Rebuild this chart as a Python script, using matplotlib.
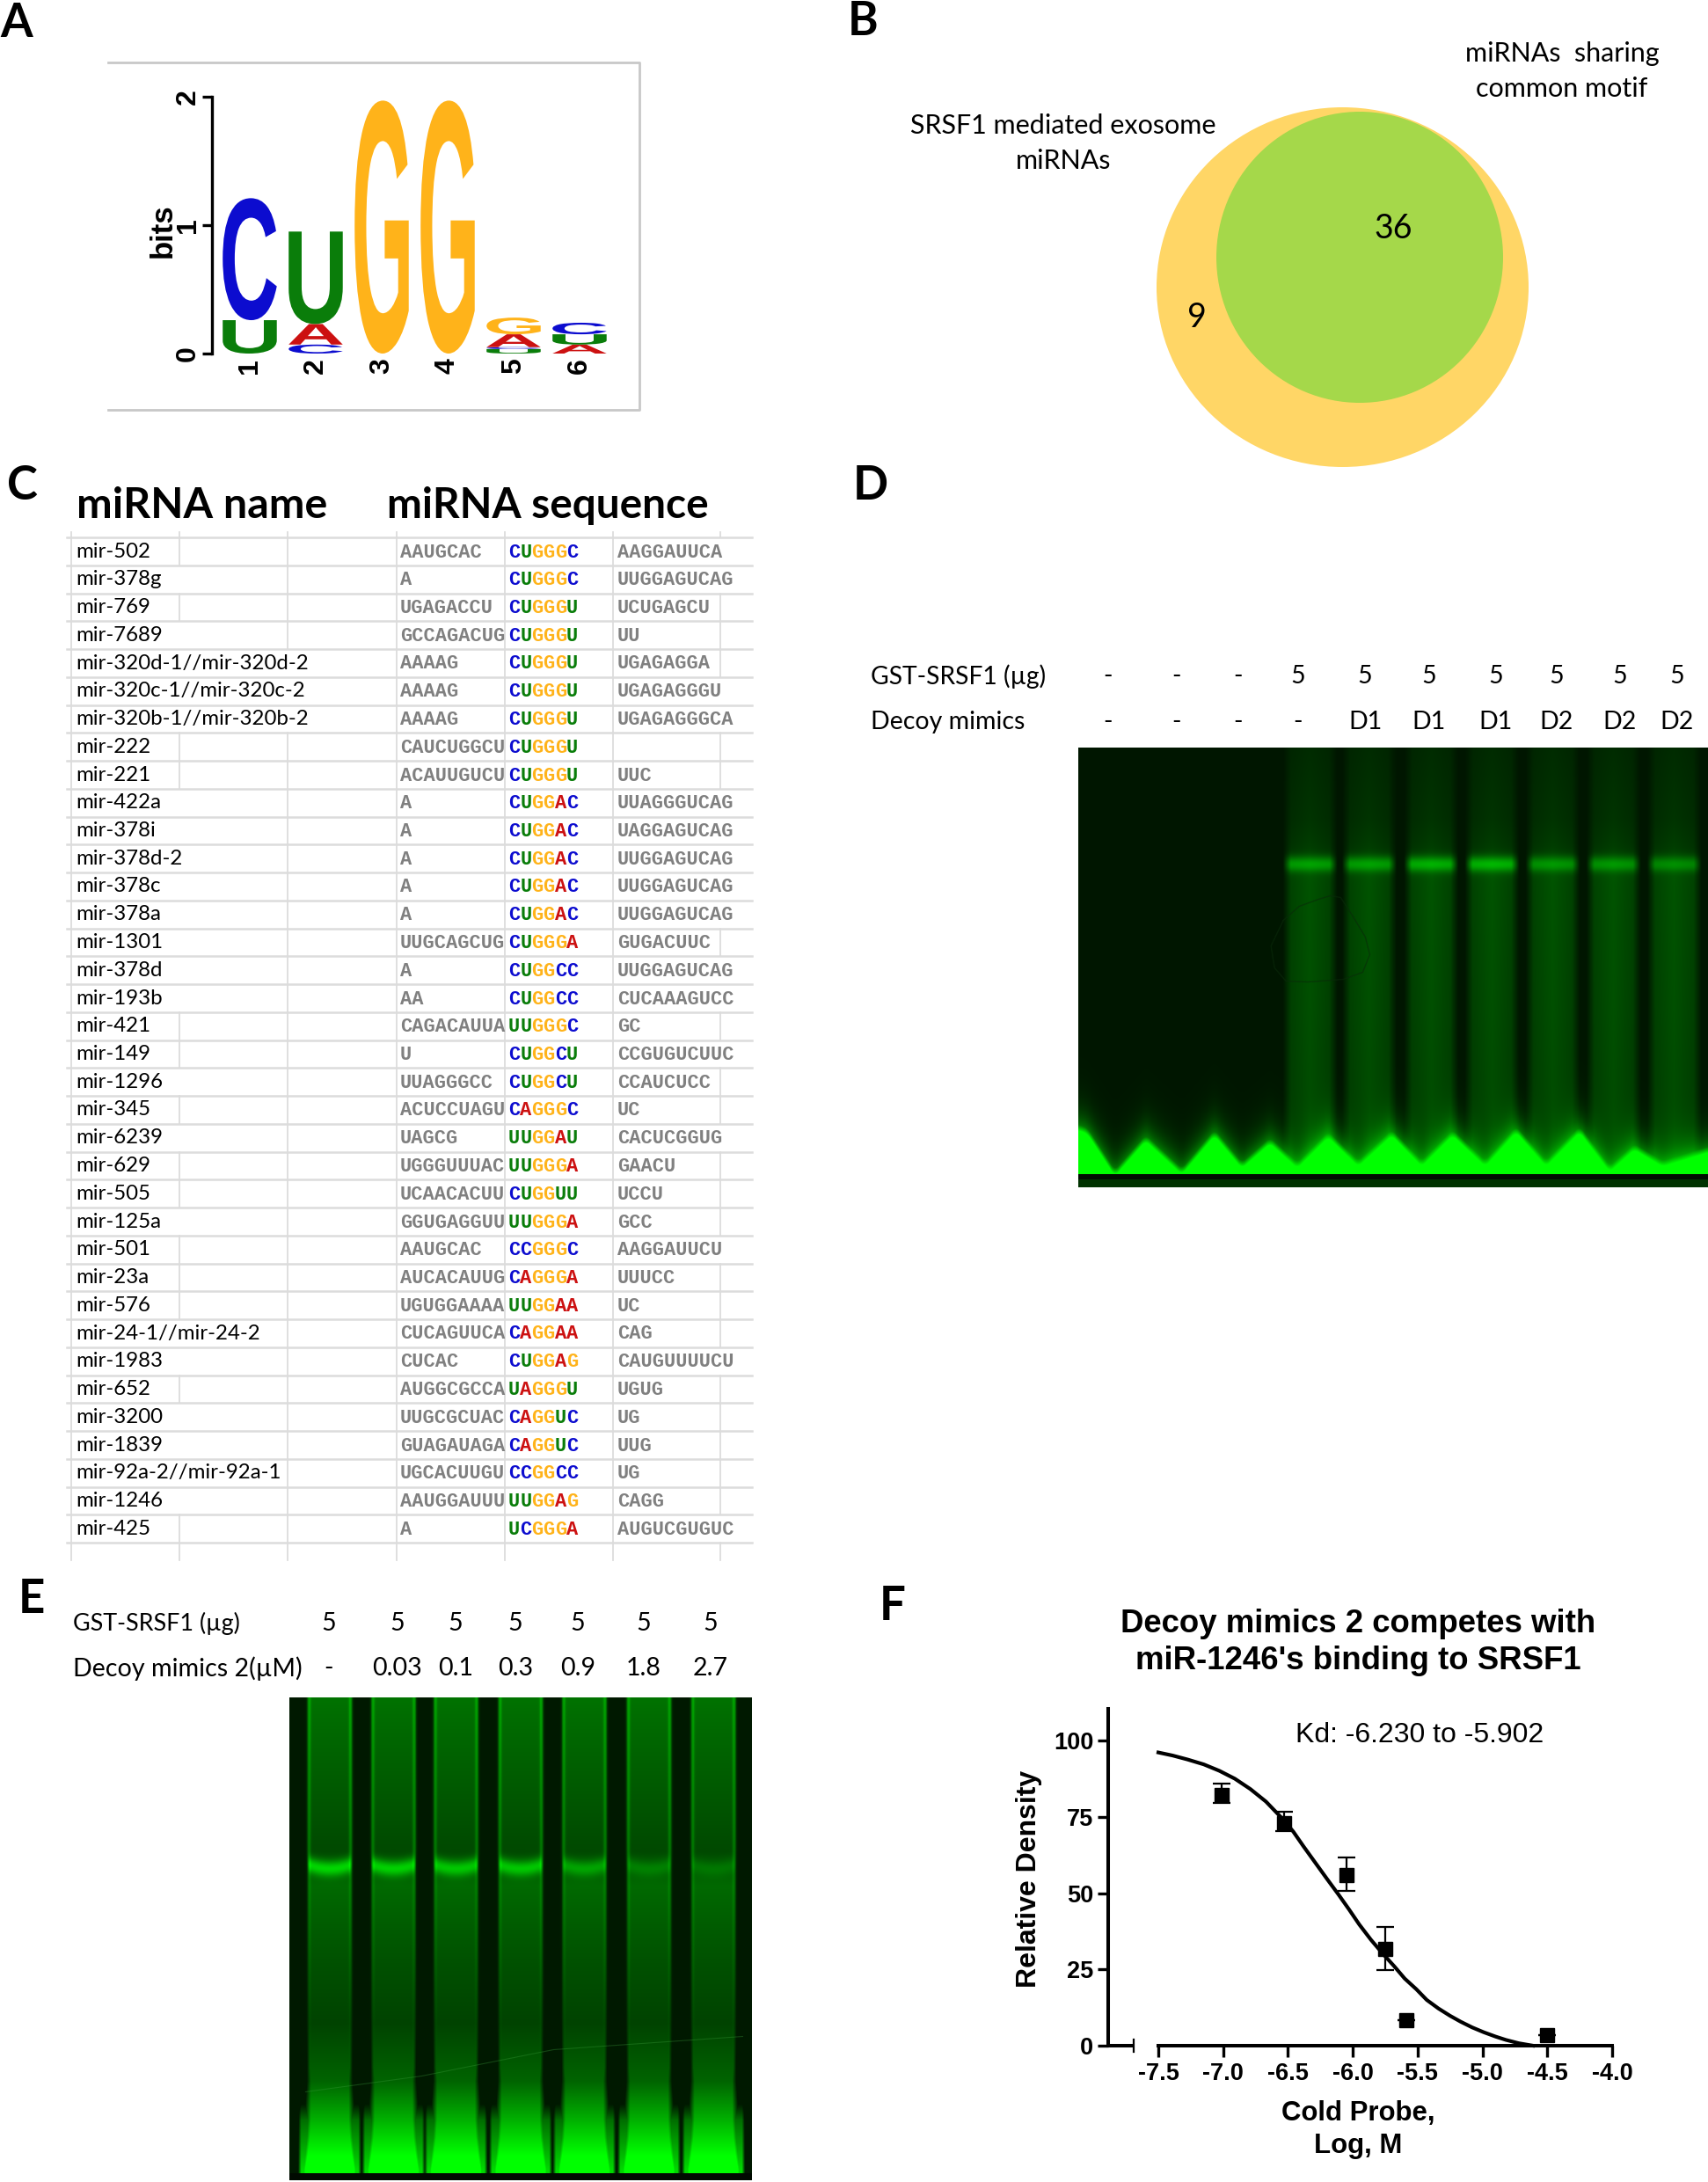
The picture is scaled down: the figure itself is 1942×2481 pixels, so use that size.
# -*- coding: utf-8 -*-
import numpy as np
import matplotlib
matplotlib.use('Agg')
import matplotlib.pyplot as plt
from matplotlib.patches import Ellipse, PathPatch
from matplotlib.textpath import TextPath
from matplotlib.font_manager import FontProperties
from matplotlib.transforms import Affine2D

W, H = 1942, 2481

# panel A, sequence logo (bits, bottom to top)
logo_stacks = [
    [('U', 0.26), ('C', 0.95)],
    [('C', 0.07), ('A', 0.16), ('U', 0.72)],
    [('G', 1.97)],
    [('G', 1.97)],
    [('U', 0.035), ('C', 0.015), ('A', 0.10), ('G', 0.13)],
    [('A', 0.07), ('U', 0.08), ('C', 0.09)],
]
logo_colors = {'A': '#CC1111', 'C': '#0C0CCF', 'G': '#FFB31A', 'U': '#0A7D0A'}

# panel B
venn_only = '9'
venn_shared = '36'

# panel C
mirna_names = ['mir-502', 'mir-378g', 'mir-769', 'mir-7689', 'mir-320d-1//mir-320d-2',
               'mir-320c-1//mir-320c-2', 'mir-320b-1//mir-320b-2', 'mir-222', 'mir-221',
               'mir-422a', 'mir-378i', 'mir-378d-2', 'mir-378c', 'mir-378a', 'mir-1301',
               'mir-378d', 'mir-193b', 'mir-421', 'mir-149', 'mir-1296', 'mir-345',
               'mir-6239', 'mir-629', 'mir-505', 'mir-125a', 'mir-501', 'mir-23a',
               'mir-576', 'mir-24-1//mir-24-2', 'mir-1983', 'mir-652', 'mir-3200',
               'mir-1839', 'mir-92a-2//mir-92a-1', 'mir-1246', 'mir-425']
seq_before = ['AAUGCAC', 'A', 'UGAGACCU', 'GCCAGACUG', 'AAAAG', 'AAAAG', 'AAAAG', 'CAUCUGGCU',
              'ACAUUGUCU', 'A', 'A', 'A', 'A', 'A', 'UUGCAGCUG', 'A', 'AA', 'CAGACAUUA', 'U',
              'UUAGGGCC', 'ACUCCUAGU', 'UAGCG', 'UGGGUUUAC', 'UCAACACUU', 'GGUGAGGUU',
              'AAUGCAC', 'AUCACAUUG', 'UGUGGAAAA', 'CUCAGUUCA', 'CUCAC', 'AUGGCGCCA',
              'UUGCGCUAC', 'GUAGAUAGA', 'UGCACUUGU', 'AAUGGAUUU', 'A']
seq_motif = ['CUGGGC', 'CUGGGC', 'CUGGGU', 'CUGGGU', 'CUGGGU', 'CUGGGU', 'CUGGGU', 'CUGGGU',
             'CUGGGU', 'CUGGAC', 'CUGGAC', 'CUGGAC', 'CUGGAC', 'CUGGAC', 'CUGGGA', 'CUGGCC',
             'CUGGCC', 'UUGGGC', 'CUGGCU', 'CUGGCU', 'CAGGGC', 'UUGGAU', 'UUGGGA', 'CUGGUU',
             'UUGGGA', 'CCGGGC', 'CAGGGA', 'UUGGAA', 'CAGGAA', 'CUGGAG', 'UAGGGU', 'CAGGUC',
             'CAGGUC', 'CCGGCC', 'UUGGAG', 'UCGGGA']
seq_after = ['AAGGAUUCA', 'UUGGAGUCAG', 'UCUGAGCU', 'UU', 'UGAGAGGA', 'UGAGAGGGU', 'UGAGAGGGCA',
             '', 'UUC', 'UUAGGGUCAG', 'UAGGAGUCAG', 'UUGGAGUCAG', 'UUGGAGUCAG', 'UUGGAGUCAG',
             'GUGACUUC', 'UUGGAGUCAG', 'CUCAAAGUCC', 'GC', 'CCGUGUCUUC', 'CCAUCUCC', 'UC',
             'CACUCGGUG', 'GAACU', 'UCCU', 'GCC', 'AAGGAUUCU', 'UUUCC', 'UC', 'CAG',
             'CAUGUUUUCU', 'UGUG', 'UG', 'UUG', 'UG', 'CAGG', 'AUGUCGUGUC']

# panel D labels
d_srsf1 = ['-', '-', '-', '5', '5', '5', '5', '5', '5', '5']
d_decoy = ['-', '-', '-', '-', 'D1', 'D1', 'D1', 'D2', 'D2', 'D2']
# panel E labels
e_srsf1 = ['5', '5', '5', '5', '5', '5', '5']
e_decoy = ['-', '0.03', '0.1', '0.3', '0.9', '1.8', '2.7']

# panel F
cold_x = [-7.01, -6.53, -6.05, -5.75, -5.59, -4.50]
cold_y = [82.1, 72.8, 56.0, 31.6, 8.5, 3.5]
cold_err_low = [2.5, 2.5, 5.4, 6.9, 0, 0]
cold_err_high = [3.9, 4.0, 5.8, 7.4, 0, 0]
fit_x = [-7.5, -7.39, -7.275, -7.15, -7.03, -6.91, -6.79, -6.67, -6.55, -6.46, -6.38, -6.29,
         -6.20, -6.11, -6.03, -5.95, -5.86, -5.77, -5.68, -5.60, -5.51, -5.43, -5.34, -5.25,
         -5.17, -5.08, -4.99, -4.90, -4.82, -4.72, -4.61]
fit_y = [96.1, 95.1, 93.8, 92.2, 90.1, 87.5, 84.1, 80.0, 74.7, 70.2, 65.3, 60.0, 54.7, 49.5,
         44.7, 39.7, 34.7, 30.2, 26.0, 22.0, 18.5, 15.0, 12.2, 9.8, 7.9, 6.0, 4.4, 3.0, 1.9,
         0.8, 0]
f_xticks = [-7.5, -7.0, -6.5, -6.0, -5.5, -5.0, -4.5, -4.0]
f_yticks = [0, 25, 50, 75, 100]

# gel photographs, read by eye: lane centres, band strength, grey level down the lane
gel_d_lanes = [262.5, 329.6, 399.7, 468.7, 537.6, 606.5, 675.4]
gel_d_bands = [95, 95, 110, 115, 85, 85, 75]
gel_d_ridge_x = [0, 10, 41, 76, 117, 154, 185, 217, 248, 283, 317, 355, 389, 424, 461, 496,
                 530, 568, 602, 630, 662, 714]
gel_d_ridge_y = [428, 432, 480, 440, 478, 434, 471, 443, 471, 436, 469, 434, 469, 434, 469,
                 430, 469, 430, 475, 450, 469, 453]
gel_d_prof_y = [0, 80, 130, 150, 300, 440, 500]
gel_d_prof_v = [22, 30, 45, 62, 58, 52, 40]

gel_e_lanes = [45.5, 118, 189, 262.5, 335, 408.5, 481.7]
gel_e_bands = [125, 120, 110, 110, 75, 40, 30]
gel_e_prof_y = [0, 14, 175, 214, 305, 370, 436, 479, 523, 536, 540]
gel_e_prof_v = [90, 85, 48, 80, 55, 42, 75, 150, 235, 255, 255]


def axes_px(left, top, right, bottom):
    return fig.add_axes([left / W, 1 - bottom / H, (right - left) / W, (bottom - top) / H])


def gel_d_image():
    h, w = 500, 714
    x = np.arange(w)[None, :]
    y = np.arange(h)[:, None]
    g = np.full((h, w), 22.0)
    prof = np.interp(y, gel_d_prof_y, gel_d_prof_v)
    for c, amp in zip(gel_d_lanes, gel_d_bands):
        dx = np.abs(x - c)
        mask = np.clip((31 - dx) / 9, 0, 1)
        centre = 0.7 + 0.3 * np.clip(1 - dx / 24, 0, 1)
        lane = prof * mask * centre
        lane = lane + amp * np.exp(-((y - 132) / 9.0) ** 2) * mask
        g = np.maximum(g, 22 + lane)
    ridge = np.interp(np.arange(w + 8), np.array(gel_d_ridge_x) + 4, gel_d_ridge_y)
    ridge = np.convolve(ridge, np.ones(9) / 9, mode='valid')[:w][None, :]
    glow = 95 * np.exp(-np.clip(ridge - y, 0, None) / 17.0)
    g = g + glow
    bright = np.clip((y - ridge) / 7.0, 0, 1)
    g = g * (1 - bright) + 255 * bright
    g[485:491, :] = 12
    g[491:, :] = 50
    rgb = np.zeros((h, w, 3), dtype=np.uint8)
    rgb[:, :, 1] = np.clip(g, 0, 255).astype(np.uint8)
    return rgb


def gel_e_image():
    h, w = 549, 526
    x = np.arange(w)[None, :]
    y = np.arange(h)[:, None]
    g = np.full((h, w), 25.0)
    prof = np.interp(y, gel_e_prof_y, gel_e_prof_v)
    halfw = np.interp(y, [0, 436, 479, 536], [26, 26, 29, 36])
    soft = np.interp(y, [0, 420, 500], [3.5, 3.5, 9])
    nearest = np.min(np.abs(x[None, :, :] - np.array(gel_e_lanes)[:, None, None]), axis=0)
    for c, amp in zip(gel_e_lanes, gel_e_bands):
        dx = np.abs(x - c)
        mask = np.clip((halfw - dx) / soft, 0, 1)
        edge = np.interp(y, [0, 170, 200, 300, 420], [75, 60, 40, 25, 0])
        lane = prof * mask
        lane = lane + edge * np.exp(-((dx - halfw + 2) / 2.2) ** 2)
        arc = 12 * (dx / 25.0) ** 2
        lane = lane + amp * np.exp(-((y - 194 + arc * 0.4) / 9.0) ** 2) * mask
        g = np.maximum(g, 25 + lane)
    # the foot of each gap fills up with the free probe
    floor = np.interp(y, [462, 480, 536], [25, 110, 215])
    wedge = np.clip((36.4 - nearest) / 4.0, 0, 1)
    g = np.maximum(g, floor * wedge)
    rgb = np.zeros((h, w, 3), dtype=np.uint8)
    g[541:, :] = 10
    rgb[:, :, 1] = np.clip(g, 0, 255).astype(np.uint8)
    return rgb


fig = plt.figure(figsize=(W / 100, H / 100), dpi=100, facecolor='white')

# page layer in pixel coordinates
page = fig.add_axes([0, 0, 1, 1])
page.set_xlim(0, W)
page.set_ylim(H, 0)
page.axis('off')

LATO = 'Lato'
ARIAL = 'Liberation Sans'
MONO = 'Liberation Mono'

for letter, lx, ly in [('A', 19, 26), ('B', 981, 24), ('C', 25, 552), ('D', 990, 552),
                       ('E', 36, 1818), ('F', 1015, 1826)]:
    page.text(lx, ly, letter, fontsize=38, fontweight='bold', family=LATO, ha='center', va='center')

# ---- A
page.plot([123, 727, 727, 123], [71, 71, 466, 466], color='#C8C8C8', lw=2)
axl = axes_px(241, 110, 697, 402)
axl.set_xlim(0.427, 6.507)
axl.set_ylim(0, 2)
axl.patch.set_alpha(0)
logo_font = FontProperties(family=ARIAL, weight='bold')
for pos, stack in enumerate(logo_stacks):
    bottom = 0
    for letter, height in stack:
        tp = TextPath((0, 0), letter, size=1, prop=logo_font)
        bb = tp.get_extents()
        tr = (Affine2D().translate(-bb.x0, -bb.y0).scale(0.82 / bb.width, height / bb.height)
              .translate(pos + 1 - 0.41, bottom))
        axl.add_patch(PathPatch(tp, transform=tr + axl.transData, fc=logo_colors[letter], lw=0))
        bottom += height
for s in ['top', 'right', 'bottom']:
    axl.spines[s].set_visible(False)
axl.spines['left'].set_linewidth(2.4)
axl.set_yticks([0, 1, 2])
axl.set_yticklabels(['0', '1', '2'], rotation=90, va='center', fontsize=23, fontweight='bold', family=ARIAL)
axl.set_xticks(range(1, 7))
axl.set_xticklabels(range(1, 7), rotation=90, fontsize=23, fontweight='bold', family=ARIAL)
axl.tick_params(axis='y', length=8, width=2.4, pad=1)
axl.tick_params(axis='x', length=0, pad=4)
page.text(185, 262, 'bits', fontsize=25, fontweight='bold', family=ARIAL, rotation=90, ha='center', va='center')

# ---- B
page.add_patch(Ellipse((1526.5, 326.5), 423, 409, fc='#FFD666', ec='none'))
page.add_patch(Ellipse((1546, 292.5), 326, 331, fc='#A5D84A', ec='none'))
page.text(1776, 81, 'miRNAs  sharing\ncommon motif', ha='center', va='center', fontsize=22, family=LATO, linespacing=1.5)
page.text(1209, 163, 'SRSF1 mediated exosome\nmiRNAs', ha='center', va='center', fontsize=22, family=LATO, linespacing=1.5)
page.text(1584, 260, venn_shared, ha='center', va='center', fontsize=27, family=LATO)
page.text(1361, 361, venn_only, ha='center', va='center', fontsize=27, family=LATO)

# ---- C
page.text(87, 575, 'miRNA name', fontsize=34.8, fontweight='bold', family=LATO, va='center')
page.text(440, 575, 'miRNA sequence', fontsize=34.4, fontweight='bold', family=LATO, va='center')
row_h = 31.75
row0 = 627
grid_xs = [81, 204, 327, 451, 574, 697, 819]
grid_c = '#DCDCDC'
n_rows = len(mirna_names)
for i in range(n_rows + 1):
    yy = row0 - row_h / 2 + i * row_h
    page.plot([76, 855], [yy, yy], color=grid_c, lw=1.8, zorder=1)
for i, name in enumerate(mirna_names):
    yy = row0 + i * row_h
    y0, y1 = yy - row_h / 2, yy + row_h / 2
    for gx in grid_xs:
        if gx == 204 and len(name) >= 8:
            continue
        if gx == 327 and len(name) >= 21:
            continue
        if gx == 819 and len(seq_after[i]) >= 9:
            continue
        page.plot([gx, gx], [y0, y1], color=grid_c, lw=1.3, zorder=1)
    page.text(86, yy, name, fontsize=17.3, family=LATO, va='center', zorder=3)
    page.text(455, yy + 1, seq_before[i], fontsize=15.8, family=MONO, fontweight='bold', color='#808080', va='center', zorder=3)
    page.text(702, yy + 1, seq_after[i], fontsize=15.8, family=MONO, fontweight='bold', color='#808080', va='center', zorder=3)
    for k, ch in enumerate(seq_motif[i]):
        page.text(578 + k * 13.2, yy + 1, ch, fontsize=15.8, family=MONO, fontweight='bold', color=logo_colors[ch], va='center', zorder=3)
for gx in grid_xs:
    page.plot([gx, gx], [row0 - row_h / 2 - 6, row0 - row_h / 2], color=grid_c, lw=1.3, zorder=1)
    page.plot([gx, gx], [row0 + (n_rows - 0.5) * row_h, 1774], color=grid_c, lw=1.3, zorder=1)

# ---- D
d_xs = [1259, 1338, 1407, 1476, 1552, 1625, 1701, 1770, 1842, 1907]
page.text(990, 769, 'GST-SRSF1 (µg)', fontsize=20.3, family=LATO, va='center')
page.text(990, 821, 'Decoy mimics', fontsize=20.5, family=LATO, va='center')
for lx, a, b in zip(d_xs, d_srsf1, d_decoy):
    page.text(lx, 769, a, fontsize=20.5, family=LATO, ha='center', va='center')
    page.text(lx, 821, b, fontsize=20.5, family=LATO, ha='center', va='center')
axd = axes_px(1226, 850, 1942, 1350)
axd.imshow(gel_d_image(), aspect='auto', interpolation='bilinear')
axd.plot([232, 250, 272, 285, 297, 310, 325, 330, 322, 300, 260, 235, 222, 218, 232],
         [196, 180, 172, 168, 170, 190, 215, 235, 255, 263, 266, 265, 250, 225, 196],
         color='#0A2A0A', lw=1.0, alpha=0.6)
axd.set_xlim(-0.5, 713.5)
axd.set_ylim(499.5, -0.5)
axd.axis('off')

# ---- E
e_xs = [374, 452, 518, 586, 657, 732, 808]
page.text(83, 1846, 'GST-SRSF1 (µg)', fontsize=19.4, family=LATO, va='center')
page.text(83, 1897, 'Decoy mimics 2(µM)', fontsize=20.6, family=LATO, va='center')
for lx, a, b in zip(e_xs, e_srsf1, e_decoy):
    page.text(lx, 1846, a, fontsize=20.5, family=LATO, ha='center', va='center')
    page.text(lx, 1897, b, fontsize=20.5, family=LATO, ha='center', va='center')
axe = axes_px(329, 1930, 855, 2479)
axe.imshow(gel_e_image(), aspect='auto', interpolation='bilinear')
axe.plot([18, 150, 300, 515], [448, 430, 400, 385], color='#3A9A3A', lw=0.8, alpha=0.35)
axe.set_xlim(-0.5, 525.5)
axe.set_ylim(548.5, -0.5)
axe.axis('off')

# ---- F
page.text(1544, 1846, 'Decoy mimics 2 competes with', fontsize=26.4, fontweight='bold', family=ARIAL, ha='center', va='center')
page.text(1544, 1888, "miR-1246's binding to SRSF1", fontsize=26.4, fontweight='bold', family=ARIAL, ha='center', va='center')
page.text(1473, 1973, 'Kd: -6.230 to -5.902', fontsize=23, family=ARIAL, va='center')
axf = axes_px(1260, 1943, 1833, 2326)
axf.set_xlim(-7.887, -4.0)
axf.set_ylim(0, 110.4)
axf.patch.set_alpha(0)
axf.plot(fit_x, fit_y, color='black', lw=3.0, clip_on=False)
axf.errorbar(cold_x, cold_y, yerr=[cold_err_low, cold_err_high], fmt='s', color='black', ms=11.5,
             elinewidth=1.6, capsize=7, capthick=1.6, clip_on=False)
for s in ['top', 'right']:
    axf.spines[s].set_visible(False)
axf.spines['left'].set_linewidth(2.9)
axf.spines['bottom'].set_linewidth(2.9)
axf.spines['bottom'].set_bounds(-7.5, -4.0)
axf.plot([-7.887, -7.69], [0, 0], color='black', lw=2.9, clip_on=False, solid_capstyle='butt')
axf.plot([-7.69, -7.69], [-2, 2], color='black', lw=1.6, clip_on=False)
axf.set_xticks(f_xticks)
axf.set_xticklabels(['%.1f' % v for v in f_xticks], fontsize=19.5, fontweight='bold', family=ARIAL)
axf.set_yticks(f_yticks)
axf.set_yticklabels([str(v) for v in f_yticks], fontsize=19.5, fontweight='bold', family=ARIAL)
axf.tick_params(axis='both', length=9, width=2.4)
axf.tick_params(axis='x', pad=5)
axf.tick_params(axis='y', pad=3)
page.text(1544, 2403, 'Cold Probe,', fontsize=22.4, fontweight='bold', family=ARIAL, ha='center', va='center')
page.text(1544, 2440, 'Log, M', fontsize=22.4, fontweight='bold', family=ARIAL, ha='center', va='center')
page.text(1170, 2136, 'Relative Density', fontsize=23, fontweight='bold', family=ARIAL, rotation=90, ha='center', va='center')

fig.savefig('out.png', dpi=100, facecolor='white')
